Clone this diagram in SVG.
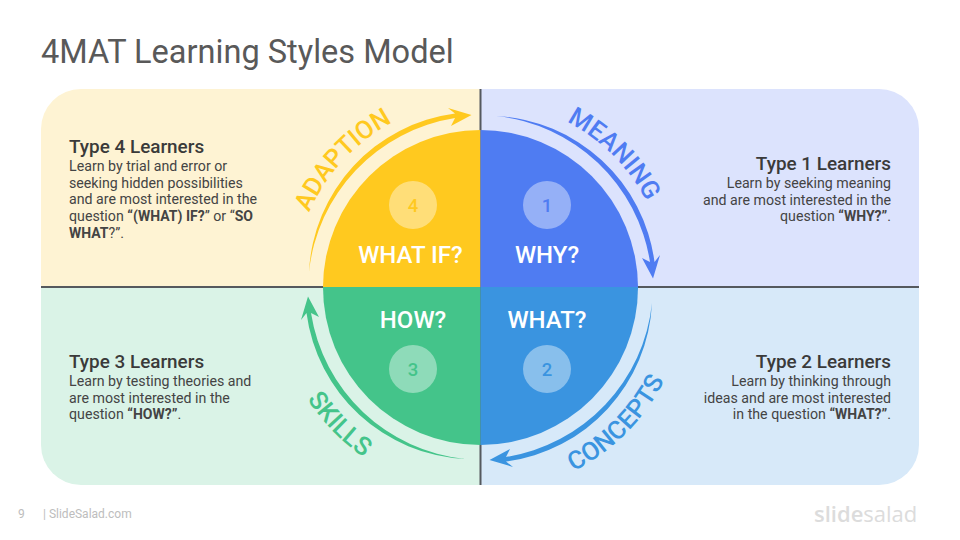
<svg xmlns="http://www.w3.org/2000/svg" width="960" height="540" viewBox="0 0 960 540">
<style>
text{font-family:Roboto,"Liberation Sans",sans-serif}
.title{font-size:32.55px;fill:#595959}
.h{font-size:18.9px;font-weight:500;fill:#3a3a3a}
.b{font-size:14.2px;fill:#444}
.b tspan.s{font-weight:700;font-size:14px}
.r{text-anchor:end}
.q{font-size:24px;font-weight:500;fill:#fff;text-anchor:middle}
.n{font-size:18.500px;font-weight:500;text-anchor:middle}
.c{fill:#fff;fill-opacity:.4}
.a{font-size:25.500px;font-weight:500;text-anchor:middle}
.line{stroke:#55595e;stroke-width:2;fill:none}
</style>
<defs>
<clipPath id="panel"><rect x="41" y="89" width="878" height="396" rx="40"/></clipPath>
<path id="arrow" d="M496,116 A168,168 0 0 1 654.500,262 L660,255 L653,278.500 L642,258 L650,262 A174,174 0 0 0 496,116 Z"/>
<path id="pBotA" d="M274.500,287.500 A206,206 0 0 0 480.500,493.500" fill="none"/>
<path id="pBotB" d="M480.500,493.500 A206,206 0 0 0 686.500,287.500" fill="none"/>
<path id="pTopA" d="M293.500,287.500 A187,187 0 0 1 480.500,100.500" fill="none"/>
<path id="pTopB" d="M480.500,100.500 A187,187 0 0 1 667.500,287.500" fill="none"/>
</defs>
<rect width="960" height="540" fill="#fff"/>
<text class="title" x="41" y="63">4MAT Learning Styles Model</text>
<g id="panels" clip-path="url(#panel)">
<rect x="41" y="89" width="439" height="198" fill="#fef3d3"/>
<rect x="480" y="89" width="439" height="198" fill="#dce3fd"/>
<rect x="41" y="287" width="439" height="198" fill="#daf3e7"/>
<rect x="480" y="287" width="439" height="198" fill="#d7e9f9"/>
</g>
<g id="dividers">
<path class="line" d="M41,287H919M480.500,89V485"/>
</g>
<g id="quadrant-4">
<path d="M480.500,287 H323 A157.500,157.500 0 0 1 480.500,130 Z" fill="#ffc91f"/>
<circle class="c" cx="413" cy="205" r="24"/>
<text class="n" x="413" y="212" fill="#ffc91f">4</text>
<text class="q" x="410.500" y="263">WHAT IF?</text>
</g>
<g id="quadrant-1">
<path d="M480.500,287 V130 A157.500,157.500 0 0 1 638,287 Z" fill="#4f7cf2"/>
<circle class="c" cx="547" cy="205" r="24"/>
<text class="n" x="547" y="212" fill="#4f7cf2">1</text>
<text class="q" x="547" y="263">WHY?</text>
</g>
<g id="quadrant-3">
<path d="M480.500,287 H323 A157.500,157.500 0 0 0 480.500,445 Z" fill="#44c48a"/>
<circle class="c" cx="413" cy="369" r="24"/>
<text class="n" x="413" y="376" fill="#44c48a">3</text>
<text class="q" x="413" y="328">HOW?</text>
</g>
<g id="quadrant-2">
<path d="M480.500,287 H638 A157.500,157.500 0 0 1 480.500,445 Z" fill="#3a94e0"/>
<circle class="c" cx="547" cy="369" r="24"/>
<text class="n" x="547" y="376" fill="#3a94e0">2</text>
<text class="q" x="547" y="328">WHAT?</text>
</g>
<g id="connectors">
<use href="#arrow" fill="#4f7cf2"/>
<use href="#arrow" fill="#3a94e0" transform="rotate(90 480.500 287.500)"/>
<use href="#arrow" fill="#44c48a" transform="rotate(180 480.500 287.500)"/>
<use href="#arrow" fill="#ffc91f" transform="rotate(270 480.500 287.500)"/>
</g>
<g id="label-adaption"><text class="a" fill="#ffc91f"><textPath href="#pTopA" startOffset="47.500%">ADAPTION</textPath></text></g>
<g id="label-meaning"><text class="a" fill="#4f7cf2"><textPath href="#pTopB" startOffset="50%">MEANING</textPath></text></g>
<g id="label-skills"><text class="a" fill="#44c48a"><textPath href="#pBotA" startOffset="49%">SKILLS</textPath></text></g>
<g id="label-concepts"><text class="a" fill="#3a94e0"><textPath href="#pBotB" startOffset="50%">CONCEPTS</textPath></text></g>
<g id="type-4">
<text class="h" x="69" y="153">Type 4 Learners</text>
<text class="b"><tspan x="69" y="171">Learn by trial and error or</tspan><tspan x="69" y="188">seeking hidden possibilities</tspan><tspan x="69" y="204">and are most interested in the</tspan><tspan x="69" y="221">question <tspan class="s">“(WHAT) IF?</tspan>” or “<tspan class="s">SO</tspan></tspan><tspan x="69" y="238"><tspan class="s">WHAT</tspan>?”.</tspan></text>
</g>
<g id="type-1">
<text class="h r" x="891" y="170">Type 1 Learners</text>
<text class="b r"><tspan x="891" y="188">Learn by seeking meaning</tspan><tspan x="891" y="205">and are most interested in the</tspan><tspan x="891" y="221">question <tspan class="s">“WHY?”</tspan>.</tspan></text>
</g>
<g id="type-3">
<text class="h" x="69" y="368">Type 3 Learners</text>
<text class="b"><tspan x="69" y="386">Learn by testing theories and</tspan><tspan x="69" y="403">are most interested in the</tspan><tspan x="69" y="419">question <tspan class="s">“HOW?”</tspan>.</tspan></text>
</g>
<g id="type-2">
<text class="h r" x="891" y="368">Type 2 Learners</text>
<text class="b r"><tspan x="891" y="386">Learn by thinking through</tspan><tspan x="891" y="403">ideas and are most interested</tspan><tspan x="891" y="419">in the question <tspan class="s">“WHAT?”</tspan>.</tspan></text>
</g>
<g id="footer">
<text x="18" y="518" font-size="12" fill="#bdbdbd">9</text>
<text x="43" y="518" font-size="12" fill="#bdbdbd">| SlideSalad.com</text>
<text x="814" y="522" style="font-family:'Open Sans',sans-serif" font-size="22" fill="#dcdcdc"><tspan font-weight="600">slide</tspan><tspan>salad</tspan></text>
</g>
</svg>
